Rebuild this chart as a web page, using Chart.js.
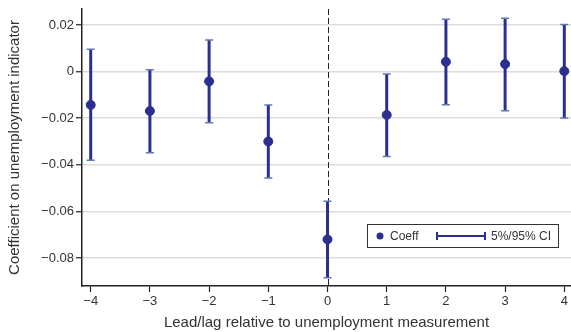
<!DOCTYPE html>
<html>
<head>
<meta charset="utf-8">
<script src="https://cdn.jsdelivr.net/npm/chart.js@4.4.1/dist/chart.umd.min.js"></script>
<style>
    html, body { margin: 0; padding: 0; background: #fff; }
    #wrap { width: 571px; height: 332px; position: relative; }
</style>
</head>
<body>
<div id="wrap"><canvas id="chart" width="571" height="332"></canvas></div>
<script>
// ═══════════════════════════════════════════════════════════
//  Data
// ═══════════════════════════════════════════════════════════

var leadLag = [-4, -3, -2, -1, 0, 1, 2, 3, 4];
var coeff   = [-0.0143, -0.0169, -0.0042, -0.0300, -0.0720, -0.0186, 0.0042, 0.0032, 0.0002];
var ciLow   = [-0.0380, -0.0348, -0.0219, -0.0456, -0.0884, -0.0364, -0.0142, -0.0168, -0.0199];
var ciHigh  = [0.0096, 0.0008, 0.0135, -0.0143, -0.0556, -0.0010, 0.0224, 0.0229, 0.0202];

var xTicks = [-4, -3, -2, -1, 0, 1, 2, 3, 4];
var yTicks = [0.02, 0, -0.02, -0.04, -0.06, -0.08];

var NAVY = '#2b2f8f';
var CAP = '#5f78b2';
var TEXT = '#333333';
var FONT = "'Liberation Sans', Arial, Helvetica, sans-serif";

function minusLabel(v) {
    if (Math.abs(v) < 1e-9) return '0';
    var s = String(Math.round(v * 100) / 100);
    return s.replace('-', '\u2212');
}

// ═══════════════════════════════════════════════════════════
//  Plugins: error bars, zero line, legend box
// ═══════════════════════════════════════════════════════════

var errorBars = {
    id: 'errorBars',
    beforeDatasetsDraw: function (chart) {
        var ctx = chart.ctx;
        var xs = chart.scales.x, ys = chart.scales.y;
        var area = chart.chartArea;

        // dashed line at 0
        var x0 = Math.round(xs.getPixelForValue(0)) + 0.5;
        ctx.save();
        ctx.strokeStyle = '#222';
        ctx.lineWidth = 1;
        ctx.setLineDash([6, 3]);
        ctx.beginPath();
        ctx.moveTo(x0, area.top);
        ctx.lineTo(x0, area.bottom);
        ctx.stroke();
        ctx.setLineDash([]);

        for (var i = 0; i < leadLag.length; i++) {
            var px = xs.getPixelForValue(leadLag[i]);
            var top = ys.getPixelForValue(ciHigh[i]);
            var bot = ys.getPixelForValue(ciLow[i]);
            ctx.strokeStyle = NAVY;
            ctx.lineWidth = 3;
            ctx.beginPath();
            ctx.moveTo(px, top);
            ctx.lineTo(px, bot);
            ctx.stroke();
            ctx.strokeStyle = CAP;
            ctx.lineWidth = 1.5;
            ctx.beginPath();
            ctx.moveTo(px - 4, top); ctx.lineTo(px + 4, top);
            ctx.moveTo(px - 4, bot); ctx.lineTo(px + 4, bot);
            ctx.stroke();
        }
        ctx.restore();
    }
};

var legendBox = {
    id: 'legendBox',
    afterDraw: function (chart) {
        var ctx = chart.ctx;
        ctx.save();
        ctx.fillStyle = '#fff';
        ctx.fillRect(367.5, 224.5, 191, 23);
        ctx.strokeStyle = '#333';
        ctx.lineWidth = 1;
        ctx.strokeRect(367.5, 224.5, 191, 23);

        ctx.fillStyle = NAVY;
        ctx.beginPath();
        ctx.arc(380, 236, 3.5, 0, Math.PI * 2);
        ctx.fill();

        ctx.strokeStyle = NAVY;
        ctx.lineWidth = 2;
        ctx.beginPath();
        ctx.moveTo(437, 236); ctx.lineTo(485, 236);
        ctx.moveTo(437, 232); ctx.lineTo(437, 240);
        ctx.moveTo(485, 232); ctx.lineTo(485, 240);
        ctx.stroke();

        ctx.fillStyle = TEXT;
        ctx.font = '12px ' + FONT;
        ctx.textBaseline = 'middle';
        ctx.fillText('Coeff', 390, 236.5);
        ctx.fillText('5%/95% CI', 491, 236.5);
        ctx.restore();
    }
};

// ═══════════════════════════════════════════════════════════
//  Chart
// ═══════════════════════════════════════════════════════════

var points = leadLag.map(function (x, i) { return { x: x, y: coeff[i] }; });

new Chart(document.getElementById('chart').getContext('2d'), {
    type: 'scatter',
    data: {
        datasets: [{
            label: 'Coeff',
            data: points,
            backgroundColor: NAVY,
            borderColor: NAVY,
            pointRadius: 4.5,
            pointHoverRadius: 4.5,
            clip: false
        }]
    },
    options: {
        responsive: false,
        animation: false,
        devicePixelRatio: 1,
        layout: { autoPadding: false, padding: { top: 9, right: 0, bottom: 0, left: 0 } },
        plugins: { legend: { display: false }, tooltip: { enabled: false } },
        scales: {
            x: {
                type: 'linear',
                min: -4.147,
                max: 4.113,
                afterBuildTicks: function (s) { s.ticks = xTicks.map(function (v) { return { value: v }; }); },
                afterFit: function (s) { s.height = 46; s.paddingLeft = 0; s.paddingRight = 0; },
                grid: { drawOnChartArea: false, drawTicks: true, tickLength: 6, tickColor: '#222', tickWidth: 1.2 },
                border: { display: true, color: '#222', width: 1.5 },
                ticks: {
                    color: TEXT,
                    font: { family: FONT, size: 13 },
                    padding: 2,
                    maxRotation: 0,
                    callback: function (v) { return minusLabel(v); }
                },
                title: {
                    display: true,
                    text: 'Lead/lag relative to unemployment measurement',
                    color: TEXT,
                    font: { family: FONT, size: 15 },
                    padding: { top: 8, bottom: 0 }
                }
            },
            y: {
                min: -0.09197,
                max: 0.02684,
                afterBuildTicks: function (s) { s.ticks = yTicks.map(function (v) { return { value: v }; }); },
                afterFit: function (s) { s.width = 82; s.paddingTop = 0; s.paddingBottom = 0; },
                grid: { color: '#dcdcdc', lineWidth: 1.5, drawTicks: true, tickLength: 6, tickColor: '#222', tickWidth: 1.2 },
                border: { display: true, color: '#222', width: 1.5 },
                ticks: {
                    color: TEXT,
                    font: { family: FONT, size: 13 },
                    padding: 2,
                    callback: function (v) { return minusLabel(v); }
                },
                title: {
                    display: true,
                    text: 'Coefficient on unemployment indicator',
                    color: TEXT,
                    font: { family: FONT, size: 15 },
                    padding: { top: 6, bottom: 4 }
                }
            }
        }
    },
    plugins: [errorBars, legendBox]
});
</script>
</body>
</html>
